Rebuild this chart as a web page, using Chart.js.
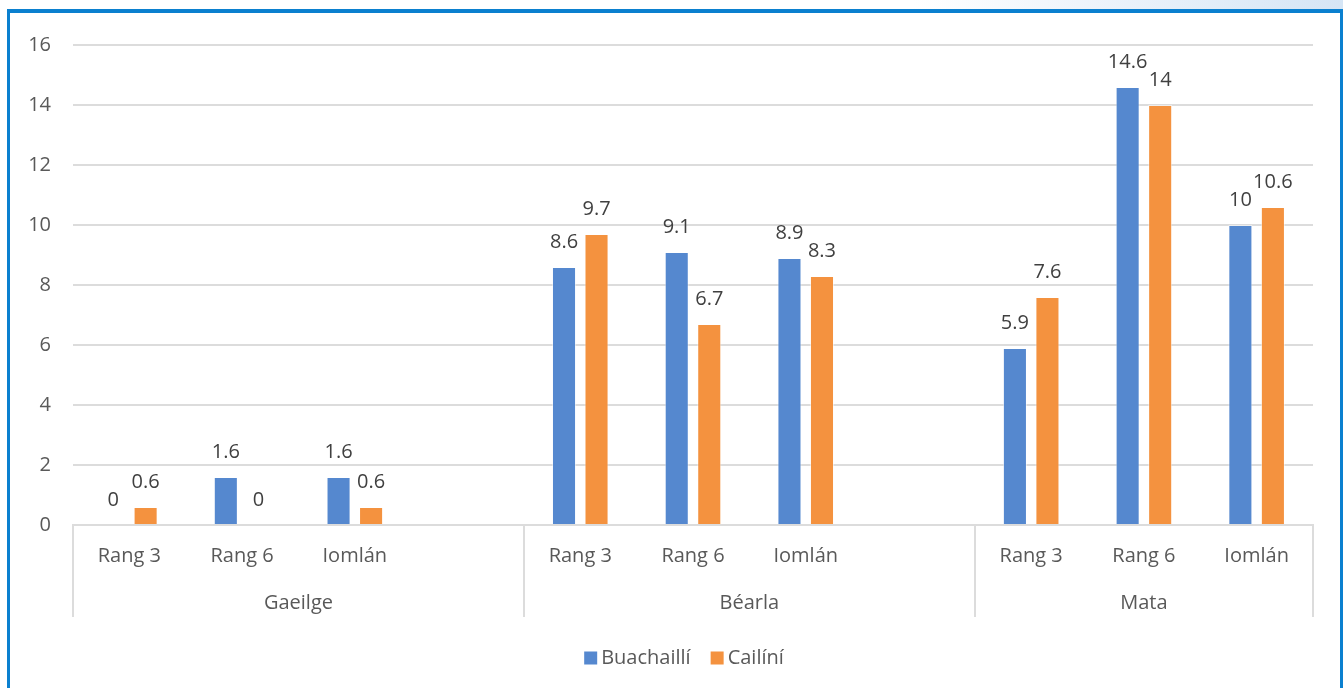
<!DOCTYPE html>
<html>
<head>
<meta charset="utf-8">
<script src="https://cdn.jsdelivr.net/npm/chart.js@4/dist/chart.umd.min.js"></script>
<style>
  html, body { margin: 0; padding: 0; background: #fff; overflow: hidden; }
  #wrap { position: relative; width: 1343px; height: 688px; }
  #topband { position: absolute; left: 0; top: 0; width: 1343px; height: 9px;
    background: linear-gradient(to right, #ffffff 0%, #ffffff 68%, #d5e5f5 100%); }
  #frame { position: absolute; left: 7px; top: 9px; width: 1336px; height: 700px;
    box-sizing: border-box; border: 3px solid #0b80cf; border-top: 4px solid #0b80cf; pointer-events: none; }
  canvas { position: absolute; left: 0; top: 0; }
</style>
</head>
<body>
<div id="wrap">
  <div id="topband"></div>
  <canvas id="c" width="1343" height="688"></canvas>
  <div id="frame"></div>
</div>
<script>
const categories = ['Rang 3','Rang 6','Iomlán','','Rang 3','Rang 6','Iomlán','','Rang 3','Rang 6','Iomlán'];
const groupNames = ['Gaeilge','Béarla','Mata'];
const groupSpans = [4, 4, 3];
const seriesNames = ['Buachaillí','Cailíní'];
const buachailli = [0, 1.6, 1.6, null, 8.6, 9.1, 8.9, null, 5.9, 14.6, 10];
const cailini    = [0.6, 0, 0.6, null, 9.7, 6.7, 8.3, null, 7.6, 14, 10.6];
const yTicks = [0, 2, 4, 6, 8, 10, 12, 14, 16];

const BLUE = '#5588cf';
const ORANGE = '#f4923f';
const FONT = '"Open Sans", sans-serif';
const FS = 20;
const TXT = '#595959';
const LBL = '#404040';
const GRID = '#dcdcdc';

const extras = {
  id: 'extras',
  afterDatasetsDraw(chart) {
    const ctx = chart.ctx;
    ctx.save();
    ctx.font = FS + 'px ' + FONT;
    ctx.fillStyle = LBL;
    ctx.textAlign = 'center';
    ctx.textBaseline = 'middle';
    chart.data.datasets.forEach((ds, di) => {
      const meta = chart.getDatasetMeta(di);
      meta.data.forEach((el, i) => {
        const v = ds.data[i];
        if (v === null || v === undefined) return;
        ctx.fillText(String(v), el.x, el.y - 25);
      });
    });
    ctx.restore();
  },
  afterDraw(chart) {
    const ctx = chart.ctx;
    const x = chart.scales.x;
    const area = chart.chartArea;
    const half = (x.getPixelForValue(1) - x.getPixelForValue(0)) / 2;
    ctx.save();
    ctx.strokeStyle = GRID;
    ctx.lineWidth = 2;
    let start = 0;
    const bounds = [];
    groupSpans.forEach((span, g) => {
      const l = x.getPixelForValue(start) - half;
      const r = x.getPixelForValue(start + span - 1) + half;
      bounds.push(l, r);
      ctx.font = FS + 'px ' + FONT;
      ctx.fillStyle = TXT;
      ctx.textAlign = 'center';
      ctx.textBaseline = 'middle';
      ctx.fillText(groupNames[g], (l + r) / 2, 603);
      start += span;
    });
    const uniq = [...new Set(bounds.map(b => Math.round(b)))];
    uniq.forEach(bx => {
      ctx.beginPath();
      ctx.moveTo(bx, area.bottom);
      ctx.lineTo(bx, 617);
      ctx.stroke();
    });
    // legend
    ctx.font = FS + 'px ' + FONT;
    ctx.textBaseline = 'middle';
    ctx.textAlign = 'left';
    const box = 13, gapText = 4, gapItem = 20;
    const colors = [BLUE, ORANGE];
    let total = 0;
    seriesNames.forEach((n, i) => {
      total += box + gapText + ctx.measureText(n).width + (i < seriesNames.length - 1 ? gapItem : 0);
    });
    let lx = (area.left + area.right) / 2 - 9 - total / 2;
    const ly = 658;
    seriesNames.forEach((n, i) => {
      ctx.fillStyle = colors[i];
      ctx.fillRect(lx, ly - box / 2, box, box);
      lx += box + gapText;
      ctx.fillStyle = TXT;
      ctx.fillText(n, lx, ly);
      lx += ctx.measureText(n).width + gapItem;
    });
    ctx.restore();
  }
};

new Chart(document.getElementById('c'), {
  type: 'bar',
  data: {
    labels: categories,
    datasets: [
      { label: seriesNames[0], data: buachailli, backgroundColor: BLUE, borderColor: 'rgba(255,255,255,0.5)', borderWidth: 1,
        barPercentage: 0.74, categoryPercentage: 0.577 },
      { label: seriesNames[1], data: cailini, backgroundColor: ORANGE, borderColor: 'rgba(255,255,255,0.5)', borderWidth: 1,
        barPercentage: 0.74, categoryPercentage: 0.577 }
    ]
  },
  options: {
    responsive: false,
    animation: false,
    events: [],
    layout: { padding: { top: 45, right: 30, left: 0, bottom: 0 } },
    plugins: { legend: { display: false }, tooltip: { enabled: false } },
    scales: {
      x: {
        grid: { display: false, drawTicks: false },
        border: { display: true, color: GRID, width: 2 },
        ticks: { color: TXT, font: { family: FONT, size: FS }, padding: 19, maxRotation: 0, autoSkip: false },
        afterFit(s) { s.height = 163; }
      },
      y: {
        min: 0, max: 16,
        afterBuildTicks(s) { s.ticks = yTicks.map(v => ({ value: v })); },
        grid: { color: GRID, lineWidth: 2, drawTicks: false },
        border: { display: false },
        ticks: { color: TXT, font: { family: FONT, size: FS }, padding: 22 },
        afterFit(s) { s.width = 73; }
      }
    }
  },
  plugins: [extras]
});
</script>
</body>
</html>
